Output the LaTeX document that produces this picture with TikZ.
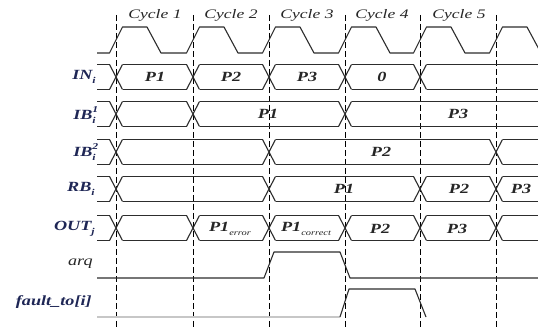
\documentclass[tikz,border=0pt]{standalone}
\usepackage{fontspec}
\setmainfont{Liberation Serif}
\definecolor{labnavy}{RGB}{30,38,85}
\definecolor{wire}{RGB}{45,45,45}
% stacked superscript over subscript, in text fonts
\newcommand\supsubtxt[2]{\rlap{\raisebox{0.5em}{\fontsize{9}{9}\selectfont #1}}\raisebox{-0.3em}{\fontsize{9}{9}\selectfont #2}}
\newcommand\subtxt[1]{\raisebox{-0.3em}{\fontsize{9}{9}\selectfont #1}}
\newcommand\valsub[1]{\raisebox{-0.3em}{\fontsize{8}{8}\selectfont\mdseries #1}}
% bus row: #1 centre y, #2 list of transition positions
\newcommand\busrow[2]{%
  \foreach \t [remember=\t as \p (initially 90.5)] in {#2,560} {
    \draw[sig] (\p+6.5,#1-12.5) -- (\t-6.5,#1-12.5);
    \draw[sig] (\p+6.5,#1+12.5) -- (\t-6.5,#1+12.5);
    \draw[sig] (\t-6.5,#1-12.5) -- (\t+6.5,#1+12.5);
    \draw[sig] (\t-6.5,#1+12.5) -- (\t+6.5,#1-12.5);
  }%
}
\begin{document}
\begin{tikzpicture}[x=1pt,y=-1pt,
  sig/.style={draw=wire,line width=1.1pt,line join=round},
  grid/.style={draw=black,line width=0.9pt,dash pattern=on 6pt off 3pt},
  cyc/.style={font=\fontsize{13}{13}\selectfont\itshape,text=black!85,xscale=1.35,inner sep=0pt},
  lab/.style={font=\fontsize{14}{14}\selectfont\bfseries\itshape,text=labnavy,xscale=1.3,inner sep=0pt,anchor=east},
  lab2/.style={font=\fontsize{14}{14}\selectfont\itshape,text=black!85,xscale=1.3,inner sep=0pt,anchor=east},
  val/.style={font=\fontsize{14}{14}\selectfont\bfseries\itshape,text=black!85,xscale=1.3,inner sep=0pt}]
\useasboundingbox (0,0) rectangle (538,328);
\clip (0,0) rectangle (538,328);
\fill[white] (0,0) rectangle (538,328);

% cycle boundaries
\foreach \e in {116,193,269,345,420,496}
  \draw[grid] (\e,15) -- (\e,328);

% cycle captions
\node[cyc] (c1) at (155,15) {Cycle 1};
\node[cyc] (c2) at (231,15) {Cycle 2};
\node[cyc] (c3) at (307,15) {Cycle 3};
\node[cyc] (c4) at (382,15) {Cycle 4};
\node[cyc] (c5) at (459,15) {Cycle 5};

% clock
\draw[sig] (97,53) foreach \e in {116,193,269,345,420,496}
  { -- (\e-6.5,53) -- (\e+6.5,27) -- (\e+31,27) -- (\e+45,53) };

% buses
\busrow{77}{116,193,269,345,420}
\busrow{114}{116,193,345}
\busrow{152}{116,269,496}
\busrow{189}{116,269,420,496}
\busrow{228}{116,193,269,345,420,496}

% arq
\draw[sig] (97,278) -- (264,278) -- (274,252) -- (340,252) -- (350,278) -- (538,278);
% fault_to[i]
\draw[draw=black!22,line width=1.1pt] (97,317) -- (340,317);
\draw[sig] (340,317) -- (349,289) -- (415,289) -- (426,317);

% row labels
\node[lab] (lin)  at (96,77)  {IN\subtxt{i}};
\node[lab] (lib1) at (96,115) {IB\supsubtxt{1}{i}};
\node[lab] (lib2) at (96,152) {IB\supsubtxt{2}{i}};
\node[lab] (lrb)  at (95,189) {RB\subtxt{i}};
\node[lab] (lout) at (95,229) {OUT\subtxt{j}};
\node[lab2] (larq) at (93,264) {arq};
\node[lab] (lflt) at (92,302) {fault\_to[i]};

% bus contents
\node[val] (in1) at (155,77) {P1};
\node[val] (in2) at (231,77) {P2};
\node[val] (in3) at (307,77) {P3};
\node[val] (in4) at (382,77) {0};
\node[val] (ib11) at (268,114) {P1};
\node[val] (ib13) at (458,114) {P3};
\node[val] (ib22) at (381,152) {P2};
\node[val] (rb1) at (344,189) {P1};
\node[val] (rb2) at (459,189) {P2};
\node[val] (rb3) at (521,189) {P3};
\node[val] (o1) at (230,229) {P1\valsub{error}};
\node[val] (o2) at (306,229) {P1\valsub{correct}};
\node[val] (o3) at (380,229) {P2};
\node[val] (o4) at (457,229) {P3};
\end{tikzpicture}
\end{document}
